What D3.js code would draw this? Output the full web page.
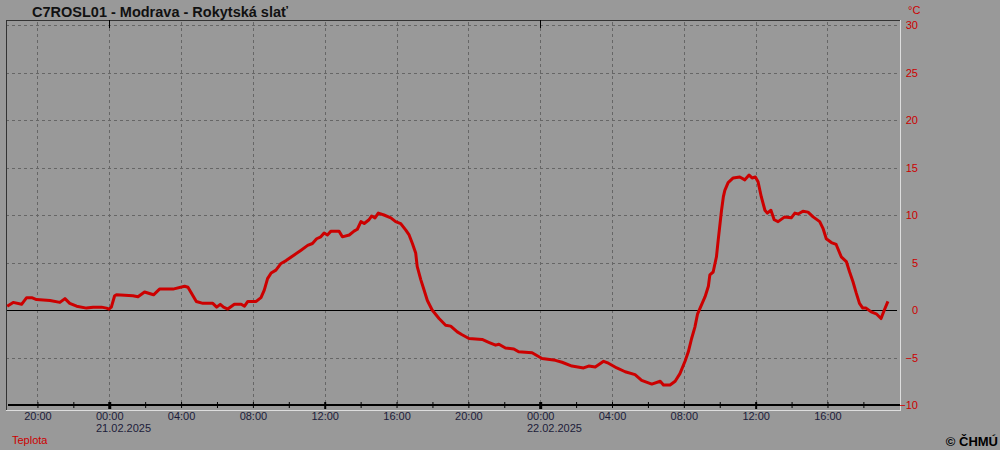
<!DOCTYPE html>
<html>
<head>
<meta charset="utf-8">
<script src="https://cdn.jsdelivr.net/npm/d3@7"></script>
<style>
  body { margin: 0; background: #999999; }
  svg { display: block; font-family: "Liberation Sans", Arial, sans-serif; }
  .tick text { font-size: 11px; }
</style>
</head>
<body>
<script>
// temperature readings (Teplota), station C7ROSL01
var times = [
  "2025-02-20 18:19","2025-02-20 18:39","2025-02-20 19:07","2025-02-20 19:24","2025-02-20 19:41","2025-02-20 19:57",
  "2025-02-20 20:42","2025-02-20 21:15","2025-02-20 21:32","2025-02-20 21:48","2025-02-20 22:11","2025-02-20 22:44",
  "2025-02-20 23:06","2025-02-20 23:34","2025-02-20 23:51","2025-02-20 23:59","2025-02-21 00:07","2025-02-21 00:18",
  "2025-02-21 00:24","2025-02-21 01:19","2025-02-21 01:36","2025-02-21 01:58","2025-02-21 02:28","2025-02-21 02:48",
  "2025-02-21 03:33","2025-02-21 04:12","2025-02-21 04:23","2025-02-21 04:51","2025-02-21 05:13","2025-02-21 05:46",
  "2025-02-21 05:59","2025-02-21 06:11","2025-02-21 06:22","2025-02-21 06:36","2025-02-21 06:58","2025-02-21 07:21",
  "2025-02-21 07:32","2025-02-21 07:43","2025-02-21 08:11","2025-02-21 08:27","2025-02-21 08:38","2025-02-21 08:49",
  "2025-02-21 09:01","2025-02-21 09:17","2025-02-21 09:34","2025-02-21 09:51","2025-02-21 10:18","2025-02-21 10:41",
  "2025-02-21 11:03","2025-02-21 11:19","2025-02-21 11:33","2025-02-21 11:47","2025-02-21 11:58","2025-02-21 12:09",
  "2025-02-21 12:21","2025-02-21 12:48","2025-02-21 12:59","2025-02-21 13:22","2025-02-21 13:38","2025-02-21 13:49",
  "2025-02-21 14:01","2025-02-21 14:12","2025-02-21 14:28","2025-02-21 14:37","2025-02-21 14:48","2025-02-21 14:59",
  "2025-02-21 15:18","2025-02-21 15:41","2025-02-21 15:57","2025-02-21 16:14","2025-02-21 16:31","2025-02-21 16:42",
  "2025-02-21 16:53","2025-02-21 17:04","2025-02-21 17:09","2025-02-21 17:21","2025-02-21 17:32","2025-02-21 17:43",
  "2025-02-21 17:59","2025-02-21 18:22","2025-02-21 18:44","2025-02-21 19:01","2025-02-21 19:23","2025-02-21 19:39",
  "2025-02-21 20:02","2025-02-21 20:46","2025-02-21 21:08","2025-02-21 21:31","2025-02-21 21:42","2025-02-21 22:04",
  "2025-02-21 22:32","2025-02-21 22:48","2025-02-21 23:33","2025-02-22 00:06","2025-02-22 00:51","2025-02-22 01:13",
  "2025-02-22 01:46","2025-02-22 02:25","2025-02-22 02:42","2025-02-22 03:04","2025-02-22 03:32","2025-02-22 03:48",
  "2025-02-22 04:16","2025-02-22 04:44","2025-02-22 05:17","2025-02-22 05:39","2025-02-22 06:13","2025-02-22 06:41",
  "2025-02-22 06:52","2025-02-22 07:14","2025-02-22 07:31","2025-02-22 07:47","2025-02-22 08:04","2025-02-22 08:15",
  "2025-02-22 08:26","2025-02-22 08:37","2025-02-22 08:46","2025-02-22 09:11","2025-02-22 09:22","2025-02-22 09:27",
  "2025-02-22 09:38","2025-02-22 09:49","2025-02-22 09:55","2025-02-22 10:01","2025-02-22 10:06","2025-02-22 10:12",
  "2025-02-22 10:17","2025-02-22 10:28","2025-02-22 10:45","2025-02-22 11:07","2025-02-22 11:24","2025-02-22 11:38",
  "2025-02-22 11:48","2025-02-22 11:59","2025-02-22 12:08","2025-02-22 12:19","2025-02-22 12:31","2025-02-22 12:39",
  "2025-02-22 12:51","2025-02-22 13:02","2025-02-22 13:15","2025-02-22 13:37","2025-02-22 13:59","2025-02-22 14:11",
  "2025-02-22 14:22","2025-02-22 14:38","2025-02-22 14:55","2025-02-22 15:12","2025-02-22 15:34","2025-02-22 15:45",
  "2025-02-22 15:56","2025-02-22 16:13","2025-02-22 16:29","2025-02-22 16:46","2025-02-22 17:03","2025-02-22 17:14",
  "2025-02-22 17:25","2025-02-22 17:36","2025-02-22 17:47","2025-02-22 17:58","2025-02-22 18:09","2025-02-22 18:26",
  "2025-02-22 18:43","2025-02-22 18:59","2025-02-22 19:10","2025-02-22 19:22"
];
var temps = [
  0.4, 0.8, 0.6, 1.3, 1.3, 1.1,
  1.0, 0.8, 1.2, 0.7, 0.4, 0.2,
  0.3, 0.3, 0.2, 0.1, 0.3, 1.5,
  1.6, 1.5, 1.4, 1.9, 1.6, 2.2,
  2.2, 2.5, 2.4, 0.9, 0.7, 0.7,
  0.3, 0.6, 0.3, 0.1, 0.6, 0.6,
  0.4, 0.9, 0.9, 1.3, 2.1, 3.3,
  3.9, 4.2, 4.9, 5.2, 5.8, 6.3,
  6.8, 7.0, 7.5, 7.7, 8.1, 7.9,
  8.3, 8.3, 7.7, 7.9, 8.3, 8.5,
  9.3, 9.1, 9.5, 9.9, 9.7, 10.2,
  10.0, 9.7, 9.3, 9.1, 8.4, 7.9,
  7.0, 6.0, 4.6, 3.2, 2.1, 1.0,
  0.0, -0.9, -1.6, -1.7, -2.3, -2.6,
  -3.0, -3.1, -3.4, -3.7, -3.6, -4.0,
  -4.1, -4.4, -4.5, -5.1, -5.3, -5.5,
  -5.9, -6.1, -5.9, -6.0, -5.4, -5.6,
  -6.1, -6.5, -6.8, -7.4, -7.8, -7.5,
  -7.9, -7.9, -7.5, -6.7, -5.4, -4.4,
  -3.0, -1.8, -0.4, 1.4, 2.5, 3.7,
  4.0, 5.6, 7.4, 9.1, 10.5, 11.9,
  12.6, 13.4, 13.9, 14.0, 13.7, 14.2,
  13.9, 14.0, 13.5, 11.9, 10.5, 10.2,
  10.5, 9.5, 9.3, 9.8, 9.7, 10.2,
  10.1, 10.4, 10.3, 9.8, 9.3, 8.6,
  7.5, 7.1, 6.9, 5.6, 5.1, 4.0,
  3.0, 1.8, 0.7, 0.2, 0.2, -0.2,
  -0.4, -0.9, 0.0, 0.9
];
var yTicks = [-10, -5, 0, 5, 10, 15, 20, 25, 30];
var timeRange = ["2025-02-20 18:15", "2025-02-22 19:59"];

var parseTime = d3.timeParse("%Y-%m-%d %H:%M");
var data = times.map(function(t, i) { return {date: parseTime(t), value: temps[i]}; });

var plotLeft = 6, plotRight = 900, plotTop = 20, plotBottom = 405;

var svg = d3.select("body").append("svg")
    .attr("width", 1000)
    .attr("height", 450);

var x = d3.scaleTime()
    .domain(timeRange.map(parseTime))
    .range([plotLeft, plotRight - 1]);

var y = d3.scaleLinear()
    .domain([-10, 30])
    .range([plotBottom, plotTop + 5]);

//Title
svg.append("text")
    .attr("x", 32)
    .attr("y", 17)
    .style("font-size", "14.5px")
    .style("font-weight", "bold")
    .attr("fill", "#111")
    .text("C7ROSL01 - Modrava - Rokytská slať");

//Horizontal grid
svg.append("g")
    .selectAll("line")
    .data(yTicks.filter(function(d) { return d != 0 && d != -10; }))
    .enter().append("line")
    .attr("x1", plotLeft).attr("x2", plotRight - 3)
    .attr("y1", function(d) { return Math.round(y(d)) + 0.5; })
    .attr("y2", function(d) { return Math.round(y(d)) + 0.5; })
    .attr("stroke", "#666")
    .attr("stroke-dasharray", "3,3");

//Vertical grid every 4 hours
var labelHours = d3.timeHour.every(4).range(x.domain()[0], x.domain()[1]);
svg.append("g")
    .selectAll("line")
    .data(labelHours)
    .enter().append("line")
    .attr("x1", function(d) { return Math.round(x(d)) + 0.5; })
    .attr("x2", function(d) { return Math.round(x(d)) + 0.5; })
    .attr("y1", plotTop + 2).attr("y2", plotBottom)
    .attr("stroke", "#666")
    .attr("stroke-dasharray", "3,3");

//Zero line
svg.append("line")
    .attr("x1", plotLeft).attr("x2", plotRight - 3)
    .attr("y1", Math.round(y(0)) + 0.5).attr("y2", Math.round(y(0)) + 0.5)
    .attr("stroke", "#000");

//Frame
svg.append("line").attr("x1", plotLeft).attr("x2", plotRight).attr("y1", plotTop + 0.5).attr("y2", plotTop + 0.5).attr("stroke", "#333");
svg.append("line").attr("x1", plotLeft + 0.5).attr("x2", plotLeft + 0.5).attr("y1", plotTop).attr("y2", plotBottom + 5).attr("stroke", "#333");
svg.append("line").attr("x1", plotRight + 0.5).attr("x2", plotRight + 0.5).attr("y1", plotTop).attr("y2", plotBottom + 6).attr("stroke", "#ddd");
svg.append("line").attr("x1", plotLeft).attr("x2", plotRight + 1).attr("y1", plotBottom + 5.5).attr("y2", plotBottom + 5.5).attr("stroke", "#ddd");

//Midnight marks at the top
var midnights = d3.timeDay.range(x.domain()[0], x.domain()[1]);
svg.append("g")
    .selectAll("line")
    .data(midnights)
    .enter().append("line")
    .attr("x1", function(d) { return Math.round(x(d)) + 0.5; })
    .attr("x2", function(d) { return Math.round(x(d)) + 0.5; })
    .attr("y1", plotTop).attr("y2", plotTop + 8)
    .attr("stroke", "#000");

//X axis
var xAxis = d3.axisBottom(x)
    .ticks(d3.timeHour.every(2))
    .tickSize(3)
    .tickPadding(4)
    .tickFormat(function(d) { return d.getHours() % 4 == 0 ? d3.timeFormat("%H:%M")(d) : ""; });

var gx = svg.append("g")
    .attr("transform", "translate(0," + plotBottom + ")")
    .call(xAxis);

gx.select(".domain").remove();
gx.insert("line", ":first-child")
    .attr("x1", plotLeft + 2).attr("x2", plotRight)
    .attr("y1", 0).attr("y2", 0)
    .attr("stroke", "#000")
    .attr("stroke-width", 2);
gx.selectAll(".tick line")
    .attr("y1", -3)
    .attr("stroke", "#000")
    .attr("stroke-width", function(d) { return d.getHours() == 0 ? 3 : (d.getHours() == 12 ? 2 : 1); })
    .attr("y2", function(d) { return d.getHours() == 0 || d.getHours() == 12 ? 4 : 3; });
gx.selectAll(".tick text")
    .attr("fill", "#1c1c3a")
    .attr("y", 7);

// date below the midnight label, left-aligned with it
gx.selectAll(".tick")
    .filter(function(d) { return d.getHours() == 0; })
    .each(function(d) {
      var tick = d3.select(this);
      var w = tick.select("text").node().getComputedTextLength();
      tick.append("text")
          .attr("fill", "#1c1c3a")
          .attr("x", -w / 2)
          .attr("y", 19)
          .attr("dy", "0.71em")
          .attr("text-anchor", "start")
          .text(d3.timeFormat("%d.%m.%Y")(d));
    });

//Y axis (right)
var yAxis = d3.axisRight(y)
    .tickValues(yTicks)
    .tickSize(0)
    .tickFormat(d3.format("d"));

var gy = svg.append("g")
    .attr("transform", "translate(" + plotRight + ",0)")
    .call(yAxis);
gy.select(".domain").remove();
gy.selectAll(".tick text")
    .attr("x", 18)
    .attr("text-anchor", "end")
    .attr("fill", "#cc0000");

svg.append("text")
    .attr("x", 908)
    .attr("y", 14)
    .style("font-size", "11px")
    .attr("fill", "#cc0000")
    .text("°C");

//Temperature line
var line = d3.line()
    .x(function(d) { return x(d.date); })
    .y(function(d) { return y(d.value); });

svg.append("path")
    .datum(data)
    .attr("fill", "none")
    .attr("stroke", "#cc0000")
    .attr("stroke-width", 3)
    .attr("stroke-linejoin", "round")
    .attr("d", line);

//Legend & credit
svg.append("text")
    .attr("x", 12)
    .attr("y", 444)
    .style("font-size", "11px")
    .attr("fill", "#cc0000")
    .text("Teplota");

svg.append("text")
    .attr("x", 998)
    .attr("y", 446)
    .attr("text-anchor", "end")
    .style("font-size", "13px")
    .style("font-weight", "bold")
    .attr("fill", "#000")
    .text("© ČHMÚ");
</script>
</body>
</html>
